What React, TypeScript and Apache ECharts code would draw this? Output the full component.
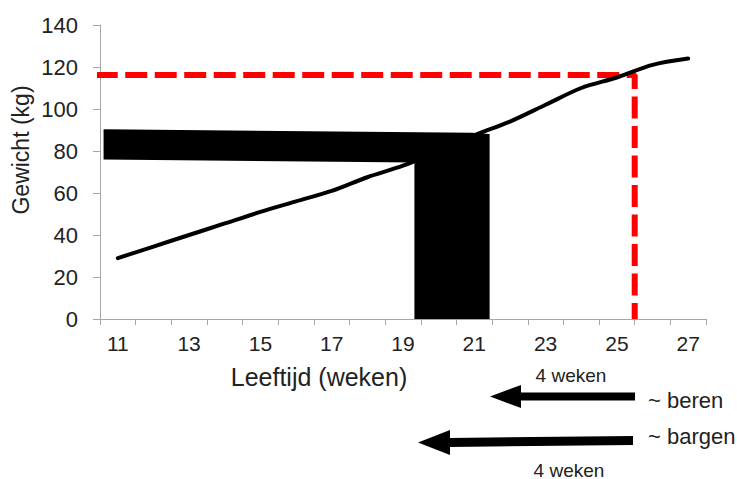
import React, { useEffect, useRef } from "react";
import * as echarts from "echarts";

// ---- data ----
const weekLabels = ["11", "12", "13", "14", "15", "16", "17", "18", "19", "20", "21", "22", "23", "24", "25", "26", "27"];
const weeks = [11, 12, 13, 14, 15, 16, 17, 18, 19, 20, 21, 22, 23, 24, 25, 26, 27];
const weight = [29, 34.5, 40, 45.5, 51, 56, 61, 67.5, 73, 80, 87.5, 94, 102, 110, 115, 121, 124];
// black block (horizontal band + vertical band), [week, kg]
const blockShape = [
  [10.6, 90.3],
  [20.95, 88.7],
  [21.43, 88.1],
  [21.43, 0],
  [19.32, 0],
  [19.32, 74.5],
  [10.6, 76],
];
// red dashed guide, [week, kg]
const redGuide = [
  [10.38, 116.2],
  [25.5, 116.2],
  [25.5, 0],
];
const yMin = 0;
const yMax = 140;
const yStep = 20;

const FONT = "'Liberation Sans', Arial, sans-serif";

export default function App() {
  const ref = useRef<HTMLDivElement>(null);

  useEffect(() => {
    if (!ref.current) return;
    const chart = echarts.init(ref.current, null, { renderer: "svg" });
    const axisGray = "#a6a6a6";
    const txt = "#222222";

    chart.setOption({
      animation: false,
      backgroundColor: "#ffffff",
      grid: { left: 100, right: 31, top: 25, bottom: 160, containLabel: false },
      xAxis: [
        {
          type: "category",
          data: weekLabels,
          boundaryGap: true,
          axisLine: { show: true, lineStyle: { color: axisGray, width: 1 } },
          axisTick: { show: true, interval: 0, length: 6, lineStyle: { color: axisGray } },
          axisLabel: { interval: 1, fontSize: 21, color: txt, margin: 14, fontFamily: FONT },
          splitLine: { show: false },
        },
        {
          type: "value",
          min: 10.5,
          max: 27.5,
          show: false,
          splitLine: { show: false },
        },
      ],
      yAxis: {
        type: "value",
        min: yMin,
        max: yMax,
        interval: yStep,
        axisLine: { show: true, lineStyle: { color: axisGray, width: 1 } },
        axisTick: { show: true, length: 7, lineStyle: { color: axisGray } },
        axisLabel: { fontSize: 22, color: txt, margin: 22, fontFamily: FONT },
        splitLine: { show: false },
      },
      series: [
        {
          type: "custom",
          xAxisIndex: 1,
          z: 1,
          data: [[blockShape[0][0], blockShape[0][1]]],
          renderItem: (params: any, api: any) => ({
            type: "polygon",
            shape: { points: blockShape.map((p) => api.coord(p)) },
            style: { fill: "#000000" },
          }),
        },
        {
          type: "line",
          xAxisIndex: 1,
          z: 2,
          clip: false,
          data: redGuide,
          symbol: "none",
          lineStyle: { color: "#ff0000", width: 6, type: [22, 7.5] },
        },
        {
          type: "line",
          xAxisIndex: 1,
          z: 3,
          data: weeks.map((w, i) => [w, weight[i]]),
          symbol: "none",
          smooth: 0.3,
          lineStyle: { color: "#000000", width: 4, cap: "round" },
        },
      ],
      graphic: [
        {
          type: "text",
          x: 21,
          y: 150,
          rotation: Math.PI / 2,
          style: { text: "Gewicht (kg)", font: `23px ${FONT}`, fill: txt, align: "center", verticalAlign: "middle" },
        },
        {
          type: "text",
          x: 319,
          y: 377,
          style: { text: "Leeftijd (weken)", font: `25px ${FONT}`, fill: txt, align: "center", verticalAlign: "middle" },
        },
        {
          type: "text",
          x: 571,
          y: 375,
          style: { text: "4 weken", font: `19px ${FONT}`, fill: txt, align: "center", verticalAlign: "middle" },
        },
        {
          type: "text",
          x: 648,
          y: 400,
          style: { text: "~ beren", font: `22px ${FONT}`, fill: txt, align: "left", verticalAlign: "middle" },
        },
        {
          type: "text",
          x: 648,
          y: 436,
          style: { text: "~ bargen", font: `22px ${FONT}`, fill: txt, align: "left", verticalAlign: "middle" },
        },
        {
          type: "text",
          x: 569,
          y: 470,
          style: { text: "4 weken", font: `19px ${FONT}`, fill: txt, align: "center", verticalAlign: "middle" },
        },
        {
          type: "polygon",
          shape: {
            points: [
              [490, 396.5],
              [521, 385],
              [521, 392.5],
              [635, 392.5],
              [635, 400.5],
              [521, 400.5],
              [521, 408],
            ],
          },
          style: { fill: "#000000" },
        },
        {
          type: "polygon",
          shape: {
            points: [
              [418, 442.5],
              [450, 430],
              [450, 438],
              [633, 436],
              [633, 445],
              [450, 447],
              [450, 455],
            ],
          },
          style: { fill: "#000000" },
        },
      ],
    });

    return () => chart.dispose();
  }, []);

  return <div ref={ref} style={{ position: "absolute", left: 0, top: 0, width: 737, height: 479 }} />;
}
